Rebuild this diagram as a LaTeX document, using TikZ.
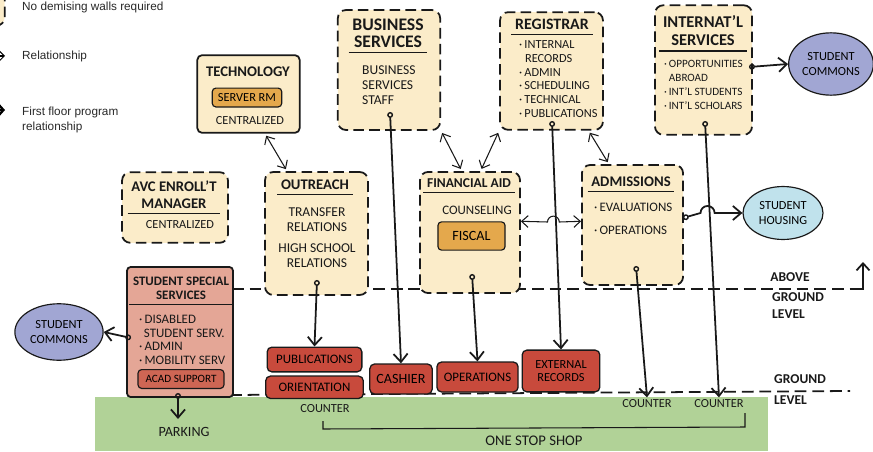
\documentclass[tikz,border=0pt]{standalone}
\usepackage{fontspec}
\setmainfont{Carlito}
\newfontfamily\keyfont{Liberation Sans}
\usepackage{tikz}
\usetikzlibrary{shapes.geometric, arrows.meta, positioning}
\definecolor{ink}{RGB}{25,25,25}
\definecolor{keygray}{RGB}{40,40,40}
\definecolor{mytan}{RGB}{251,236,201}
\definecolor{myorange}{RGB}{228,168,76}
\definecolor{myred}{RGB}{200,74,60}
\definecolor{mysalmon}{RGB}{228,166,150}
\definecolor{myrust}{RGB}{206,102,84}
\definecolor{mylilac}{RGB}{161,166,211}
\definecolor{mysky}{RGB}{192,226,236}
\definecolor{mygrass}{RGB}{177,210,151}
\tikzset{
  dashbox/.style={rectangle, draw=ink, fill=mytan, line width=1.5pt,
    dash pattern=on 9pt off 4.5pt, rounded corners=7pt},
  solidbox/.style={rectangle, draw=ink, fill=mytan, line width=1.5pt,
    rounded corners=4pt},
  pinkbox/.style={rectangle, draw=ink, fill=mysalmon, line width=1.5pt,
    rounded corners=3pt},
  innerbox/.style={rectangle, draw=ink, fill=myorange, line width=1pt,
    rounded corners=3pt, inner sep=0pt, font=\fontsize{10.5}{12}\selectfont},
  redbox/.style={rectangle, draw=ink, fill=myred, line width=1.1pt,
    rounded corners=4pt, inner sep=0pt, align=center,
    font=\fontsize{11}{11}\selectfont},
  hd/.style={font=\bfseries\fontsize{12.5}{14.5}\selectfont, align=center,
    inner xsep=3pt, inner ysep=0pt, text=ink},
  txt/.style={font=\fontsize{10.5}{12.5}\selectfont, align=left,
    inner sep=0pt, text=ink},
  lvl/.style={font=\bfseries\fontsize{11.5}{14.5}\selectfont, align=left,
    inner sep=0pt, text=ink},
  bubble/.style={ellipse, draw=ink, line width=1pt, inner sep=0pt,
    align=center, font=\fontsize{10.5}{12}\selectfont},
  key/.style={font=\keyfont\fontsize{10}{12.75}\selectfont, text=keygray,
    align=left, inner sep=0pt},
  flow/.style={{Circle[open, length=5pt, width=5pt, line width=1.2pt]}-{Straight Barb[length=7pt, width=12pt]},
    line width=1.5pt, color=ink},
  link/.style={{Straight Barb[length=5.5pt, width=10pt]}-{Straight Barb[length=5.5pt, width=10pt]},
    line width=0.9pt, color=ink, shorten <=2pt, shorten >=2pt},
  level/.style={line width=1.5pt, dash pattern=on 10pt off 5pt, color=ink},
  uline/.style={line width=1pt, color=ink}
}
\newcommand{\bul}{\textperiodcentered\,}

\begin{document}
\begin{tikzpicture}[x=0.85pt, y=-0.85pt]
  \useasboundingbox (0,0) rectangle (873,451);
  \clip (0,0) rectangle (873,451);

  % ground floor strip and the two level lines
  \fill[mygrass] (95,397) rectangle (768,451);
  \draw[level] (232,289) -- (852,289);
  \draw[line width=1.5pt, color=ink, -{Straight Barb[length=6pt, width=11pt]}]
    (852,289) -- (863,289) -- (863,262);
  \draw[level] (230,395) -- (850,391);

  % key
  \node[dashbox, minimum width=30pt, minimum height=30pt] (keybox) at (-13,8) {};
  \node[key, anchor=west] (keywall) at (22,7) {No demising walls required};
  \node[key, anchor=west] (keyrel) at (22,56) {Relationship};
  \node[key, anchor=west] (keyfloor) at (22,119.5) {First floor program\\relationship};
  \coordinate (relend) at (5,56);
  \coordinate (floorend) at (5,110);
  \draw[line width=0.9pt, -{Straight Barb[length=4pt, width=8pt]}] (-12,56) -- (relend);
  \draw[line width=2pt, -{Straight Barb[length=4pt, width=9pt]}] (-12,110) -- (floorend);

  % upper floor programs
  \node[solidbox, minimum width=87pt, minimum height=66pt] (tech) at (248.5,94) {};
  \node[hd] (techhd) at (248,72) {TECHNOLOGY};
  \node[innerbox, minimum width=59pt, minimum height=16pt] (server) at (247,97.5) {SERVER RM};
  \node[txt] (techtxt) at (250,121) {CENTRALIZED};

  \node[dashbox, minimum width=87pt, minimum height=102pt] (biz) at (389,70) {};
  \node[hd, font=\bfseries\fontsize{15}{14.5}\selectfont] (bizhd) at (388,33.5) {BUSINESS\\SERVICES};
  \node[txt, anchor=west, font=\fontsize{11.5}{12.75}\selectfont] (biztxt) at (362,85) {BUSINESS\\SERVICES\\STAFF};

  \node[dashbox, minimum width=87.5pt, minimum height=100pt] (reg) at (551.5,71) {};
  \node[hd, font=\bfseries\fontsize{13.5}{14.5}\selectfont] (reghd) at (552,24) {REGISTRAR};
  \node[txt, anchor=west, font=\fontsize{10.5}{11.6}\selectfont] (regtxt) at (519,79)
    {\bul INTERNAL\\\hspace{5pt}RECORDS\\\bul ADMIN\\\bul SCHEDULING\\\bul TECHNICAL\\\bul PUBLICATIONS};

  \node[dashbox, minimum width=82.5pt, minimum height=110pt] (intl) at (703.5,70) {};
  \node[hd, font=\bfseries\fontsize{14}{15.3}\selectfont] (intlhd) at (703,31) {INTERNAT'L\\SERVICES};
  \node[txt, anchor=west, font=\fontsize{9.5}{12}\selectfont] (intltxt) at (664,85)
    {\bul OPPORTUNITIES\\\hspace{4pt}ABROAD\\\bul INT'L STUDENTS\\\bul INT'L SCHOLARS};

  \node[dashbox, minimum width=90pt, minimum height=60pt] (avc) at (175,207.5) {};
  \node[hd] (avchd) at (174,194.5) {AVC ENROLL'T\\MANAGER};
  \node[txt] (avctxt) at (180,225) {CENTRALIZED};

  \node[dashbox, minimum width=87.5pt, minimum height=104.5pt] (outreach) at (316.5,233.5) {};
  \node[hd] (outhd) at (315,185) {OUTREACH};
  \node[txt, align=center, font=\fontsize{11.5}{12.75}\selectfont] (outtxt) at (317,237.5)
    {TRANSFER\\RELATIONS\\[5pt]HIGH SCHOOL\\RELATIONS};

  \node[dashbox, minimum width=85pt, minimum height=103pt] (finaid) at (470,232.5) {};
  \node[hd, font=\bfseries\fontsize{11.5}{14.5}\selectfont] (finhd) at (469,183) {FINANCIAL AID};
  \node[txt, font=\fontsize{11}{12.5}\selectfont] (fintxt) at (477,210) {COUNSELING};
  \node[innerbox, minimum width=57pt, minimum height=24pt, font=\fontsize{12}{12}\selectfont] (fiscal) at (471.5,236) {FISCAL};

  \node[dashbox, minimum width=86pt, minimum height=102pt] (admiss) at (632.5,225) {};
  \node[hd] (admhd) at (631,182) {ADMISSIONS};
  \node[txt, anchor=west, font=\fontsize{11}{19.5}\selectfont] (admtxt) at (594,218.5)
    {\bul EVALUATIONS\\\bul OPERATIONS};

  \node[pinkbox, minimum width=90pt, minimum height=110.5pt] (sss) at (180,332) {};
  \node[hd, font=\bfseries\fontsize{11}{11.5}\selectfont] (ssshd) at (181,288.5) {STUDENT SPECIAL\\SERVICES};
  \node[txt, anchor=west, font=\fontsize{11}{11.5}\selectfont] (ssstxt) at (139,340)
    {\bul DISABLED\\\hspace{4pt}STUDENT SERV.\\\bul ADMIN\\\bul MOBILITY SERV};
  \node[innerbox, fill=myrust, minimum width=73pt, minimum height=16pt,
    font=\fontsize{9.5}{10}\selectfont] (acad) at (181,379) {ACAD SUPPORT};

  % title underlines
  \foreach \h in {bizhd, reghd, intlhd, avchd, outhd, finhd, admhd, ssshd}
    \draw[uline] ([yshift=-4pt]\h.south west) -- ([yshift=-4pt]\h.south east);

  % outside destinations
  \node[bubble, fill=mylilac, minimum width=72pt, minimum height=53pt] (commR) at (831,64) {STUDENT\\COMMONS};
  \node[bubble, fill=mylilac, minimum width=75pt, minimum height=48pt] (commL) at (59,332) {STUDENT\\COMMONS};
  \node[bubble, fill=mysky, minimum width=68pt, minimum height=45pt] (housing) at (783,213) {STUDENT\\HOUSING};

  % ground floor counters
  \node[redbox, minimum width=80.5pt, minimum height=21pt] (pub) at (314.5,359.5) {PUBLICATIONS};
  \node[redbox, minimum width=83pt, minimum height=19pt, below=2.5pt of pub] (orient) {ORIENTATION};
  \node[redbox, minimum width=53pt, minimum height=25.5pt, font=\fontsize{12}{12}\selectfont] (cashier) at (401,379) {CASHIER};
  \node[redbox, minimum width=69pt, minimum height=25.5pt] (ops) at (477.5,377) {OPERATIONS};
  \node[redbox, minimum width=66pt, minimum height=35.5pt, font=\fontsize{10.5}{10.5}\selectfont] (extrec) at (561,371) {EXTERNAL\\RECORDS};

  \node[txt] (cnt1) at (325,409) {COUNTER};
  \node[txt, inner sep=2pt] (cnt2) at (647,404) {COUNTER};
  \node[txt, inner sep=2pt] (cnt3) at (719,404) {COUNTER};
  \node[txt, font=\fontsize{12}{12}\selectfont] (park) at (184,432) {PARKING};
  \node[txt, font=\fontsize{12.5}{12}\selectfont] (oss) at (534,441) {ONE STOP SHOP};
  \draw[line width=0.9pt, color=ink] (323,421) -- (323,429) -- (745,427) -- (745,413);

  \node[lvl] (above) at (790,277) {ABOVE};
  \node[lvl] (abovegl) at (798,305.5) {GROUND\\LEVEL};
  \node[lvl, font=\bfseries\fontsize{11.5}{18.5}\selectfont] (groundgl) at (800,389.5) {GROUND\\LEVEL};

  % relationships between programs
  \draw[link] ([xshift=14pt]tech.south) -- ([xshift=-25pt]outreach.north);
  \draw[link] (biz.south east) -- ([xshift=-7pt]finaid.north);
  \draw[link] (reg.south west) -- ([xshift=9pt]finaid.north);
  \draw[link] ([xshift=-13pt]reg.south east) -- ([xshift=-20pt]admiss.north);
  \draw[link, shorten <=0pt, shorten >=0pt] (finaid.east |- fiscal.north) -- (547.5,222)
    arc[start angle=180, end angle=0, radius=5pt] -- (admiss.west |- fiscal.north);

  % first floor program relationships
  \coordinate (bizout) at (390,112);
  \coordinate (regout) at (552,121);
  \coordinate (intlout) at (705,121);
  \coordinate (outout) at (317,280);
  \coordinate (finout) at (472,274);
  \coordinate (admout) at (636,266);
  \coordinate (intlside) at (749,67);
  \coordinate (admside) at (683,218);
  \coordinate (sssside) at (131,338);
  \coordinate (sssout) at (178,393);
  \coordinate (parkend) at (178,419);

  \draw[flow] (bizout) -- (cashier.north);
  \draw[flow] (regout) -- (extrec.north);
  \draw[flow] (intlout) -- (cnt3.north);
  \draw[flow] (outout) -- (pub.north);
  \draw[flow] (finout) -- (ops.north);
  \draw[flow] (admout) -- (cnt2.north);
  \draw[flow] (intlside) -- (commR.west);
  \draw[flow] (admside) -- (700.5,213) arc[start angle=180, end angle=0, radius=6pt] -- (housing.west);
  \draw[flow] (sssside) -- (commL.east);
  \draw[flow] (sssout) -- (parkend);
\end{tikzpicture}
\end{document}
